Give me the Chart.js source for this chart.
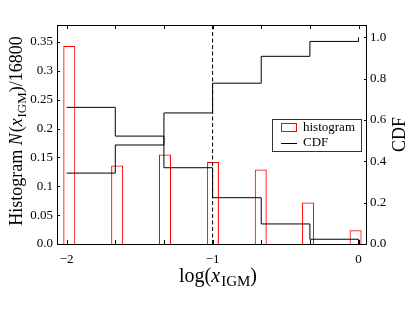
<!DOCTYPE html>
<html>
<head>
<meta charset="utf-8">
<script src="https://cdn.jsdelivr.net/npm/chart.js@4/dist/chart.umd.min.js"></script>
<style>
  html, body { margin: 0; padding: 0; background: #fff; }
  #wrap { width: 415px; height: 312px; }
</style>
</head>
<body>
<div id="wrap"><canvas id="myChart" width="415" height="312"></canvas></div>
<script>
// histogram of log(x_IGM), normalised by 16800
const binCenters = [-1.982, -1.654, -1.326, -0.998, -0.670, -0.346, -0.020];
const histValues = [0.343, 0.136, 0.155, 0.142, 0.129, 0.072, 0.024];

// step lines (right axis)
const stepX = [-2, -5 / 3, -4 / 3, -1, -2 / 3, -1 / 3, 0];
const cdfValues = [0.343, 0.479, 0.634, 0.778, 0.908, 0.980, 1.0];
const ccdfValues = [0.661, 0.522, 0.369, 0.224, 0.097, 0.023, 0.0];

const markerX = -1;

// axes
const xRange = [-2.066, 0.058];
const yLeftRange = [0, 0.3795];
const yRightRange = [0, 1.0595];
const xTicks = [-2, -1, 0];
const xMinorTicks = [-2, -5 / 3, -4 / 3, -1, -2 / 3, -1 / 3, 0];
const yLeftTicks = [0, 0.05, 0.1, 0.15, 0.2, 0.25, 0.3, 0.35];
const yRightTicks = [0, 0.2, 0.4, 0.6, 0.8, 1.0];

const FONT = 'Liberation Serif';
Chart.defaults.font.family = FONT;
Chart.defaults.color = '#000';

function drawRich(ctx, parts, size, subScale) {
    // parts: [text, kind] kind: '', 'i' italic, 's' subscript
    let w = 0;
    const sized = parts.map(p => {
        const fs = p[1] === 's' ? size * subScale : size;
        const f = (p[1] === 'i' ? 'italic ' : '') + fs + 'px "' + FONT + '"';
        ctx.font = f;
        const pw = ctx.measureText(p[0]).width + (p[1] === 'i' ? size * 0.05 : 0);
        w += pw;
        return { t: p[0], f: f, w: pw, dy: p[1] === 's' ? size * 0.22 : 0 };
    });
    let x = -w / 2;
    sized.forEach(s => {
        ctx.font = s.f;
        ctx.fillText(s.t, x, s.dy);
        x += s.w;
    });
}

const decorations = {
    id: 'decorations',
    afterDraw(chart) {
        const ctx = chart.ctx;
        const a = chart.chartArea;
        const sx = chart.scales.x, sy = chart.scales.y, sy2 = chart.scales.y2;
        ctx.save();
        ctx.strokeStyle = '#000';
        ctx.lineWidth = 1;
        ctx.strokeRect(a.left + 0.5, a.top + 0.5, a.right - a.left - 1, a.bottom - a.top);

        // inward ticks
        ctx.beginPath();
        xMinorTicks.forEach(v => {
            const px = Math.round(sx.getPixelForValue(v)) + 0.5;
            ctx.moveTo(px, a.bottom); ctx.lineTo(px, a.bottom - 4);
            ctx.moveTo(px, a.top); ctx.lineTo(px, a.top + 4);
        });
        yLeftTicks.forEach(v => {
            const py = Math.round(sy.getPixelForValue(v)) + 0.5;
            ctx.moveTo(a.left, py); ctx.lineTo(a.left + 3, py);
        });
        yRightTicks.forEach(v => {
            const py = Math.round(sy2.getPixelForValue(v)) + 0.5;
            ctx.moveTo(a.right, py); ctx.lineTo(a.right - 3, py);
        });
        ctx.stroke();

        // axis titles
        ctx.fillStyle = '#000';
        ctx.textBaseline = 'alphabetic';
        ctx.save();
        ctx.translate(218, 282);
        drawRich(ctx, [['log(', ''], ['x', 'i'], ['IGM', 's'], [')', '']], 20, 0.75);
        ctx.restore();

        ctx.save();
        ctx.translate(22, 131);
        ctx.rotate(-Math.PI / 2);
        drawRich(ctx, [['Histogram ', ''], ['N', 'i'], ['(', ''], ['x', 'i'], ['IGM', 's'], [')/16800', '']], 18, 0.72);
        ctx.restore();

        ctx.save();
        ctx.translate(405, (a.top + a.bottom) / 2);
        ctx.rotate(-Math.PI / 2);
        drawRich(ctx, [['CDF', '']], 18, 0.72);
        ctx.restore();

        // legend
        ctx.fillStyle = '#fff';
        ctx.fillRect(272.5, 119.5, 89, 32);
        ctx.strokeStyle = '#333';
        ctx.strokeRect(272.5, 119.5, 89, 32);
        ctx.strokeStyle = 'red';
        ctx.strokeRect(281.5, 123.5, 15, 8);
        ctx.strokeStyle = '#000';
        ctx.beginPath();
        ctx.moveTo(281, 143.5); ctx.lineTo(297, 143.5);
        ctx.stroke();
        ctx.fillStyle = '#000';
        ctx.font = '13px "' + FONT + '"';
        ctx.textBaseline = 'middle';
        ctx.textAlign = 'left';
        ctx.fillText('histogram', 303, 128);
        ctx.fillText('CDF', 303, 143);
        ctx.restore();
    }
};

const ctx = document.getElementById('myChart');

new Chart(ctx, {
    type: 'bar',
    data: {
        datasets: [{
                type: 'line',
                label: 'CDF',
                data: stepX.map((x, i) => ({x: x, y: cdfValues[i]})),
                yAxisID: 'y2',
                stepped: 'before',
                borderColor: '#000',
                borderWidth: 1,
                pointRadius: 0,
                fill: false
            }, {
                type: 'line',
                label: '1 - CDF',
                data: stepX.map((x, i) => ({x: x, y: ccdfValues[i]})),
                yAxisID: 'y2',
                stepped: 'before',
                borderColor: '#000',
                borderWidth: 1,
                pointRadius: 0,
                fill: false
            }, {
                type: 'line',
                label: 'marker',
                data: [{x: markerX, y: yRightRange[0]}, {x: markerX, y: yRightRange[1]}],
                yAxisID: 'y2',
                borderColor: '#000',
                borderWidth: 1,
                borderDash: [4, 2.5],
                pointRadius: 0,
                fill: false
            }, {
                type: 'bar',
                label: 'histogram',
                data: binCenters.map((x, i) => ({x: x, y: histValues[i]})),
                yAxisID: 'y',
                backgroundColor: 'rgba(0,0,0,0)',
                borderColor: '#ff0000',
                borderWidth: 1,
                inflateAmount: 0,
                barThickness: 12
            }]
    },
    options: {
        responsive: false,
        animation: false,
        layout: { padding: { top: 25, left: 0, right: 0, bottom: 0 } },
        plugins: { legend: { display: false }, tooltip: { enabled: false } },
        scales: {
            x: {
                type: 'linear',
                min: xRange[0],
                max: xRange[1],
                offset: false,
                grid: { display: false, drawTicks: false },
                border: { display: false },
                afterBuildTicks: s => { s.ticks = xTicks.map(v => ({value: v})); },
                afterFit: s => { s.height = 68; },
                ticks: {
                    padding: 8,
                    font: { size: 13 },
                    callback: v => (v < 0 ? '\u2212' + Math.abs(v) : String(v))
                }
            },
            y: {
                position: 'left',
                min: yLeftRange[0],
                max: yLeftRange[1],
                grid: { display: false, drawTicks: false },
                border: { display: false },
                afterBuildTicks: s => { s.ticks = yLeftTicks.map(v => ({value: v})); },
                afterFit: s => { s.width = 57; },
                ticks: {
                    padding: 4,
                    font: { size: 13 },
                    callback: v => (v === 0 ? '0.0' : String(+v.toFixed(2)))
                }
            },
            y2: {
                position: 'right',
                min: yRightRange[0],
                max: yRightRange[1],
                grid: { display: false, drawTicks: false },
                border: { display: false },
                afterBuildTicks: s => { s.ticks = yRightTicks.map(v => ({value: v})); },
                afterFit: s => { s.width = 48; },
                ticks: {
                    padding: 3,
                    font: { size: 13 },
                    callback: v => v.toFixed(1)
                }
            }
        }
    },
    plugins: [decorations]
});
</script>
</body>
</html>
